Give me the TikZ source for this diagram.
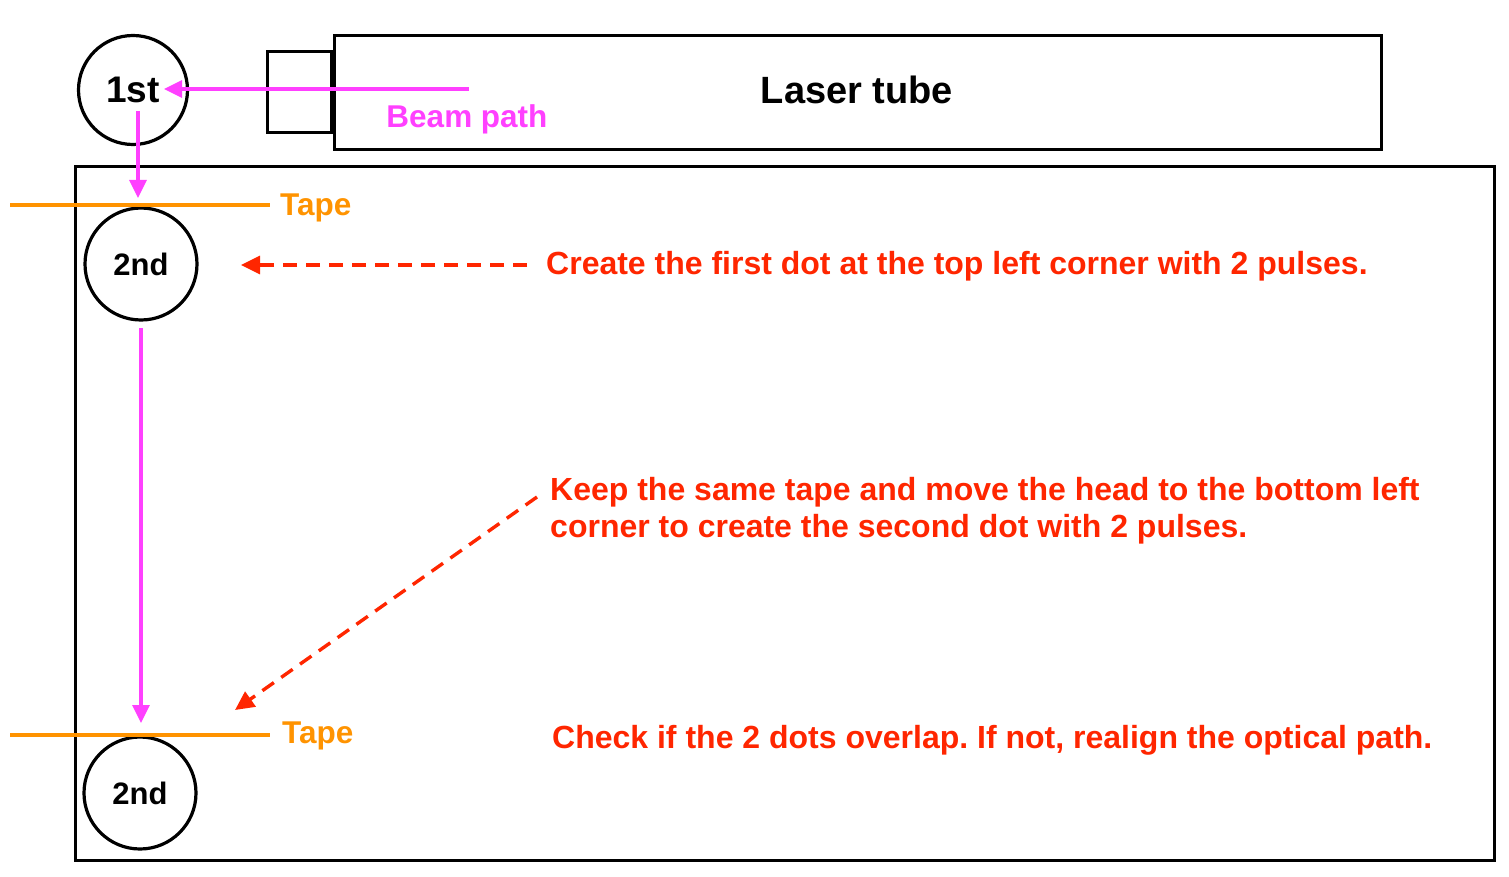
\documentclass[tikz,border=0pt]{standalone}
\usepackage{fontspec}
\setmainfont{Liberation Sans}
\usetikzlibrary{arrows.meta}
\definecolor{beam}{RGB}{255,64,255}
\definecolor{note}{RGB}{255,38,0}
\definecolor{tape}{RGB}{255,147,0}
\frenchspacing
\begin{document}
\begin{tikzpicture}[x=1pt,y=-1pt,
  box/.style={draw=black,line width=3.4pt},
  spot/.style={draw=black,line width=3.2pt,circle,inner sep=0pt,font=\bfseries\fontsize{31}{31}\selectfont},
  beamline/.style={draw=beam,line width=3.2pt},
  beamarrow/.style={beamline,-{Triangle[length=18pt,width=17pt]}},
  tapeline/.style={draw=tape,line width=3.2pt},
  tapelabel/.style={text=tape,font=\bfseries\fontsize{31.5}{32}\selectfont,anchor=west,inner sep=0pt},
  notearrow/.style={draw=note,line width=3.4pt,dash pattern=on 14pt off 9pt,-{Triangle[length=19pt,width=18pt]}},
  notetext/.style={text=note,font=\bfseries\fontsize{32}{37}\selectfont,anchor=west,inner sep=0pt,align=left}
]
\useasboundingbox (0,0) rectangle (1509,877);
% laser tube
\node[box,minimum width=1047pt,minimum height=114pt,anchor=north west,inner sep=0pt] (tube) at (333,34) {};
\node[font=\bfseries\fontsize{38}{38}\selectfont] (tubelabel) at (857,90) {Laser tube};
\node[box,minimum width=64pt,minimum height=81pt,anchor=north east,inner sep=0pt] (nozzle) at (tube.west |- 0,50) {};
% work area
\node[box,minimum width=1419pt,minimum height=694pt,anchor=north west,inner sep=0pt] (area) at (74,165) {};
% spots
\node[spot,minimum size=109pt,font=\bfseries\fontsize{37}{37}\selectfont] (first) at (133,90) {1st};
\node[spot,minimum size=112pt] (secondA) at (141,264) {2nd};
\node[spot,minimum size=112pt] (secondB) at (140,793) {2nd};
% beam path
\coordinate (beamstart) at (469,89);
\coordinate (beamend) at (164,89);
\draw[beamarrow] (beamstart) -- (beamend);
\node[text=beam,font=\bfseries\fontsize{31.5}{32}\selectfont] (beamlabel) at (467,119) {Beam path};
\coordinate (downA) at (138,111);
\coordinate (downAend) at (138,198);
\draw[beamarrow] (downA) -- (downAend);
\coordinate (downB) at (141,328);
\coordinate (downBend) at (141,723);
\draw[beamarrow] (downB) -- (downBend);
% tapes
\coordinate (tapeAl) at (10,205);
\coordinate (tapeAr) at (270,205);
\draw[tapeline] (tapeAl) -- (tapeAr);
\node[tapelabel] (tapeA) at (280,208) {Tape};
\coordinate (tapeBl) at (10,735);
\coordinate (tapeBr) at (270,735);
\draw[tapeline] (tapeBl) -- (tapeBr);
\node[tapelabel] (tapeB) at (282,736) {Tape};
% notes
\node[notetext] (noteA) at (546,266) {Create the first dot at the top left corner with 2 pulses.};
\coordinate (noteAstart) at (527,265);
\coordinate (noteAend) at (241,265);
\draw[notearrow] (noteAstart) -- (noteAend);
\node[notetext] (noteB) at (550,511) {Keep the same tape and move the head to the bottom left\\corner to create the second dot with 2 pulses.};
\coordinate (noteBstart) at (537,497);
\coordinate (noteBend) at (235,710);
\draw[notearrow] (noteBstart) -- (noteBend);
\node[notetext] (noteC) at (552,740) {Check if the 2 dots overlap. If not, realign the optical path.};
\end{tikzpicture}
\end{document}
